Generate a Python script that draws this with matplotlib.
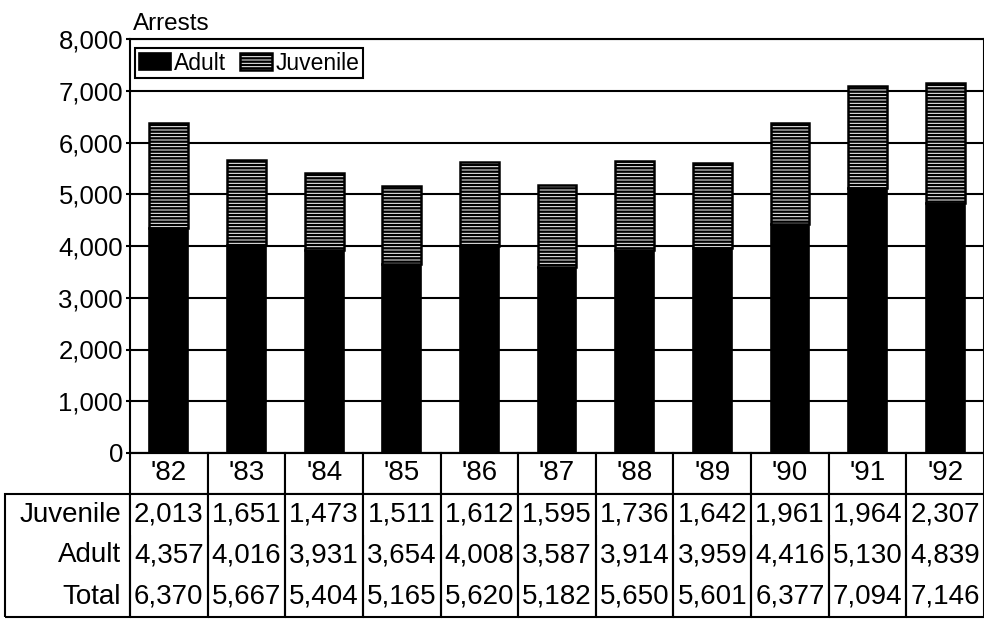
import matplotlib.pyplot as plt
from matplotlib.table import Table
from matplotlib.ticker import FuncFormatter

plt.rcParams['font.family'] = ['Liberation Sans', 'DejaVu Sans']
plt.rcParams['hatch.linewidth'] = 1.7

# Arrests by year, adult vs juvenile
years = ["'82", "'83", "'84", "'85", "'86", "'87", "'88", "'89", "'90", "'91", "'92"]
juvenile = [2013, 1651, 1473, 1511, 1612, 1595, 1736, 1642, 1961, 1964, 2307]
adult = [4357, 4016, 3931, 3654, 4008, 3587, 3914, 3959, 4416, 5130, 4839]
total = [6370, 5667, 5404, 5165, 5620, 5182, 5650, 5601, 6377, 7094, 7146]

fig = plt.figure(figsize=(9.84, 6.19), dpi=100)
ax = fig.add_axes([130 / 984, 1 - 453 / 619, 854 / 984, 414 / 619])

x = range(len(years))
ax.bar(x, adult, width=0.5, color='black', edgecolor='black', linewidth=1.2,
       label='Adult', zorder=3)
ax.bar(x, juvenile, bottom=adult, width=0.5, color='white', edgecolor='black',
       hatch='-----', linewidth=1.8, label='Juvenile', zorder=3)

ax.set_xlim(-0.5, len(years) - 0.5)
ax.set_ylim(0, 8000)
ax.set_yticks(range(0, 8001, 1000))
ax.yaxis.set_major_formatter(FuncFormatter(lambda v, p: f'{int(v):,}'))
ax.set_xticks([])
ax.tick_params(axis='y', labelsize=18.5, length=3, width=1.5, pad=2)
ax.yaxis.grid(True, color='black', linewidth=1.5)
ax.set_axisbelow(True)
for s in ax.spines.values():
    s.set_linewidth(1.5)

ax.text(0.004, 1.01, 'Arrests', transform=ax.transAxes, fontsize=17.5,
        ha='left', va='bottom')

leg = ax.legend(loc='upper left', bbox_to_anchor=(0.006, 0.978), ncol=2,
                fontsize=16.5, frameon=True, fancybox=False, framealpha=1,
                edgecolor='black', borderpad=0.15, handlelength=1.4,
                handleheight=0.75, handletextpad=0.15, columnspacing=0.6,
                borderaxespad=0)
leg.get_frame().set_linewidth(1.5)

# data table under the bars
tb = Table(ax, bbox=[-125 / 854, -164 / 414, 979 / 854, 164 / 414])
rows = [('Juvenile', juvenile), ('Adult', adult), ('Total', total)]
col_w = 1.0
lab_w = 125 / 77.6
for j, yr in enumerate(years):
    c = tb.add_cell(0, j + 1, col_w, 1, text=yr, loc='center')
for i, (name, vals) in enumerate(rows, start=1):
    edges = 'LRT' if i == 1 else ('LRB' if i == len(rows) else 'LR')
    c = tb.add_cell(i, 0, lab_w, 1, text=name, loc='right')
    c.visible_edges = edges
    c.PAD = 0.07
    for j, v in enumerate(vals):
        c = tb.add_cell(i, j + 1, col_w, 1, text=f'{v:,}', loc='center')
        c.visible_edges = edges
tb.auto_set_font_size(False)
for cell in tb.get_celld().values():
    cell.set_linewidth(1.5)
    cell.get_text().set_fontsize(20)
ax.add_table(tb)

fig.savefig('out.png', dpi=100)
